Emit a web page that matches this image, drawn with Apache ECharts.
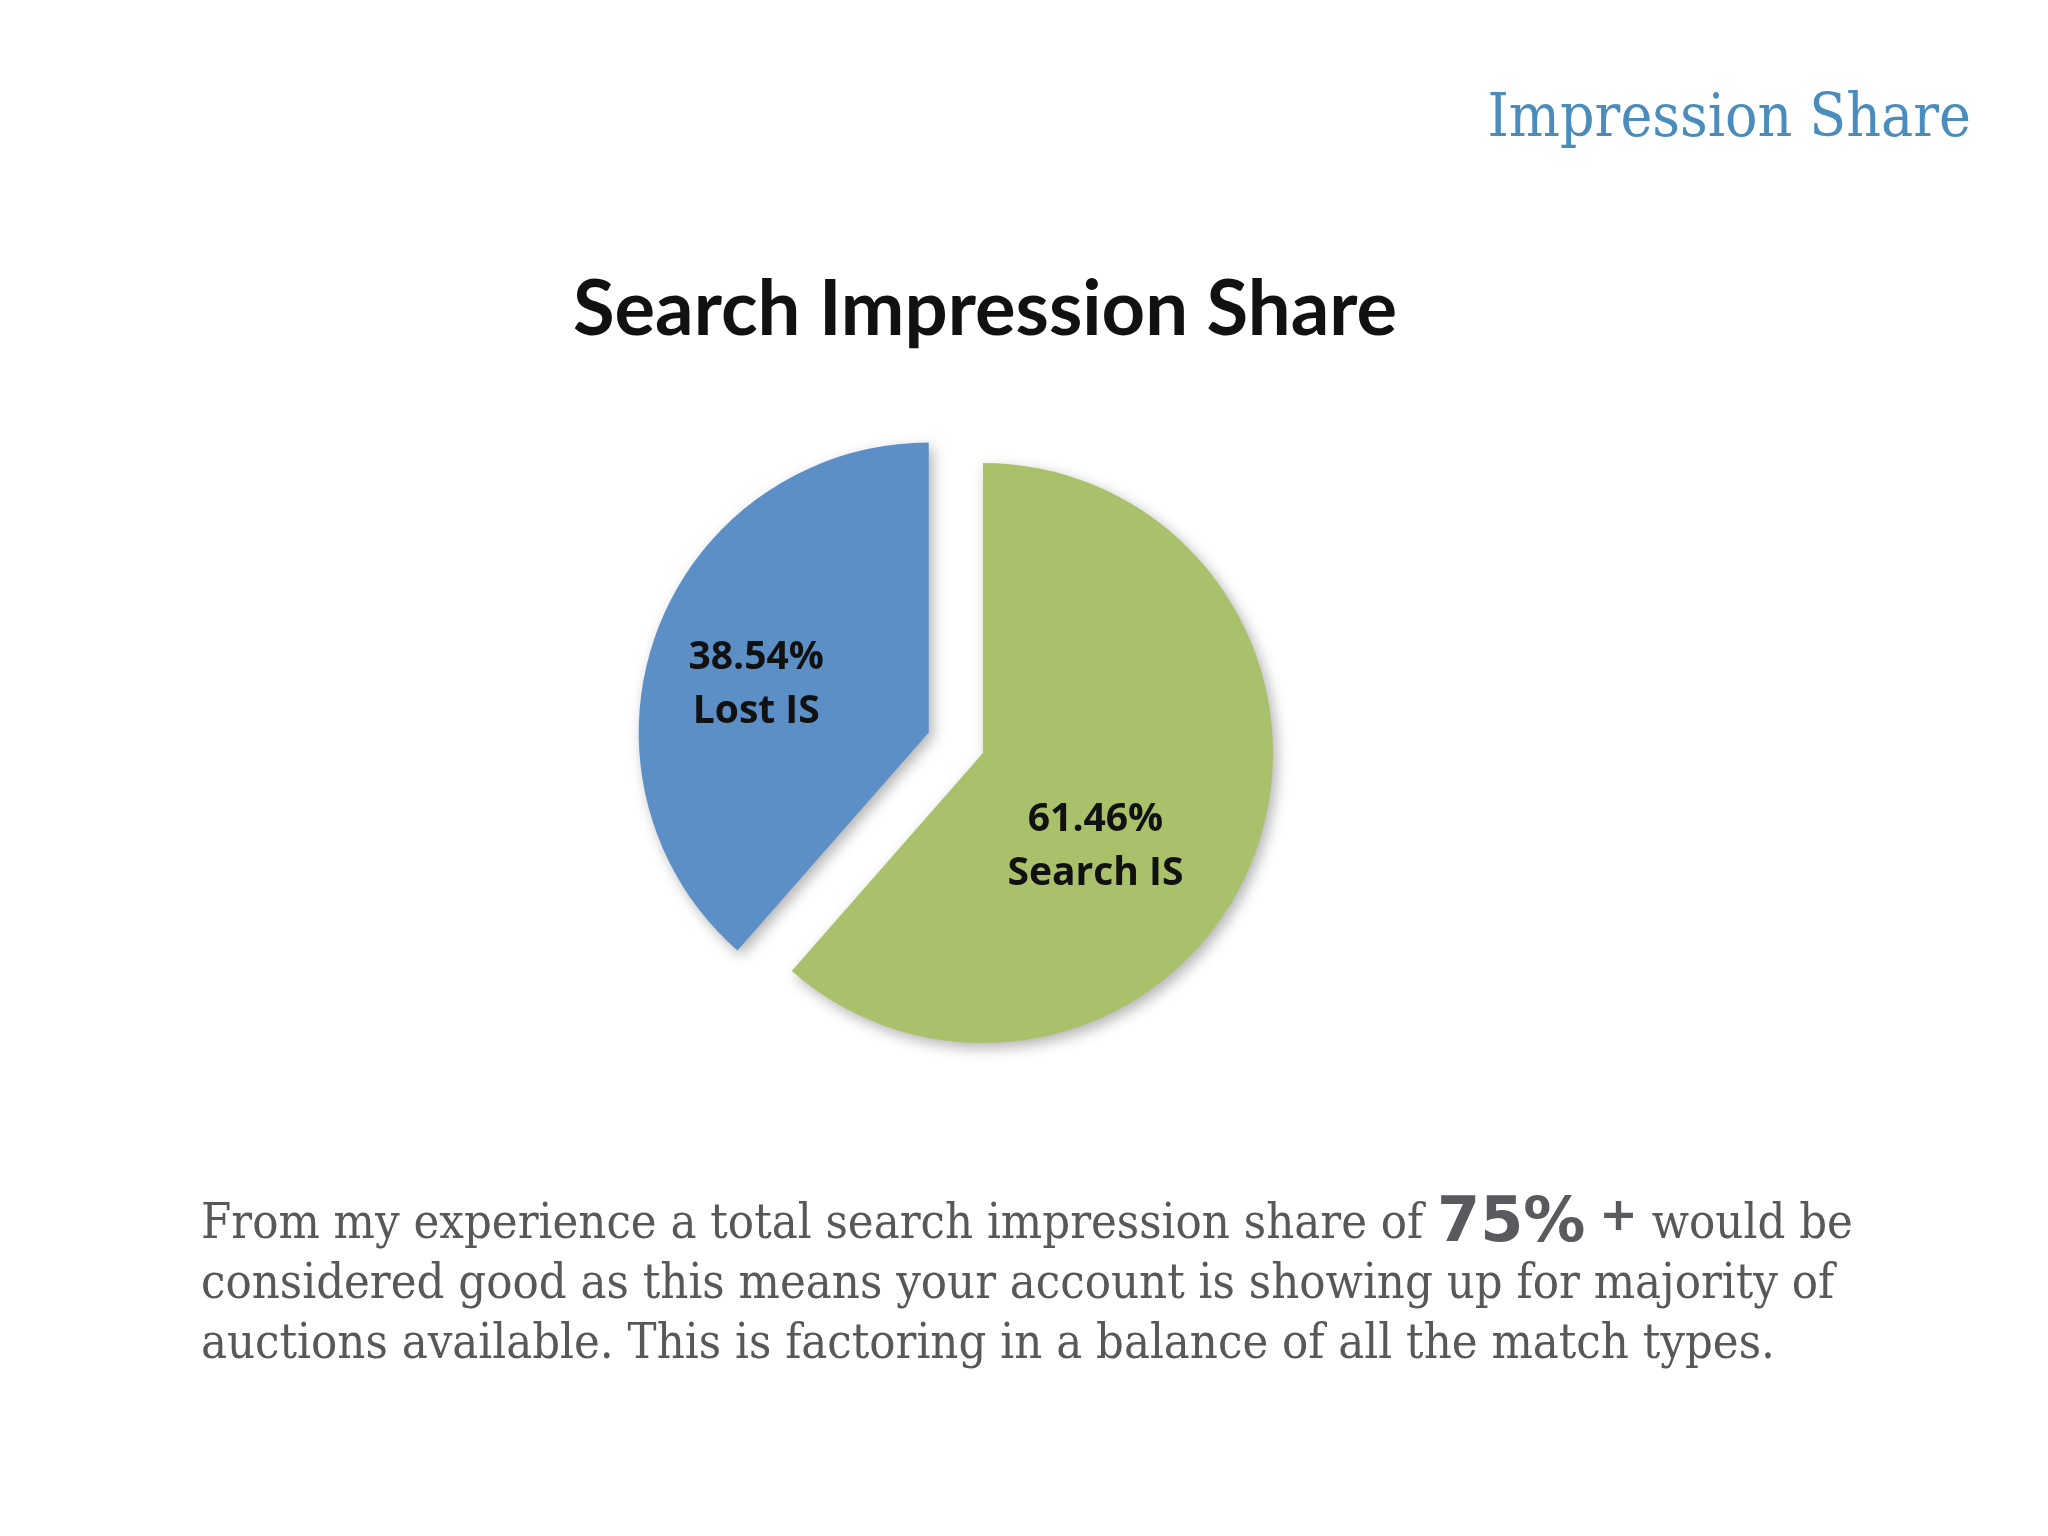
<!DOCTYPE html>
<html>
<head>
<meta charset="utf-8">
<script src="https://cdn.jsdelivr.net/npm/echarts@6/dist/echarts.min.js"></script>
<style>
  html, body { margin: 0; padding: 0; background: #fff; }
  #main { width: 2048px; height: 1536px; }
</style>
</head>
<body>
<div id="main"></div>
<script>
// data
var sliceNames = ['Search IS', 'Lost IS'];
var sliceValues = [61.46, 38.54];
var sliceColors = ['#aac16b', '#5b8fc6'];
var explodedSlice = 'Lost IS';

// label nudges, Excel put them by hand
var labelNudge = [{ dx: -26, dy: 42 }, { dx: -34, dy: 4 }];

var chart = echarts.init(document.getElementById('main'));

var pieData = sliceNames.map(function (n, i) {
  return {
    name: n,
    value: sliceValues[i],
    selected: n === explodedSlice,
    itemStyle: { color: sliceColors[i] }
  };
});

var option = {
  backgroundColor: '#ffffff',
  animation: false,
  title: [
    {
      text: 'Impression Share',
      right: 72,
      top: 85,
      textStyle: {
        fontFamily: 'DejaVu Serif Condensed, DejaVu Serif',
        fontWeight: 'normal',
        fontSize: 60,
        color: '#4a8cbc'
      }
    },
    {
      text: 'Search Impression Share',
      left: 980,
      textAlign: 'center',
      top: 267,
      textStyle: {
        fontFamily: 'Lato',
        fontWeight: 'bold',
        fontSize: 76,
        color: '#111111'
      }
    },
    {
      text: 'From my experience a total search impression share of {big|75%} {plus|+} would be\n' +
            'considered good as this means your account is showing up for majority of\n' +
            'auctions available. This is factoring in a balance of all the match types.',
      left: 196,
      top: 1190,
      textStyle: {
        fontFamily: 'DejaVu Serif Condensed, DejaVu Serif',
        fontWeight: 'normal',
        fontSize: 48.5,
        lineHeight: 60,
        color: '#58585b',
        rich: {
          big: {
            fontFamily: 'DejaVu Sans',
            fontWeight: 'bold',
            fontSize: 62,
            lineHeight: 60,
            color: '#5a5a5e'
          },
          plus: {
            fontFamily: 'DejaVu Sans',
            fontWeight: 'bold',
            fontSize: 46,
            lineHeight: 60,
            verticalAlign: 'top',
            color: '#5a5a5e'
          }
        }
      }
    }
  ],
  series: [
    {
      type: 'pie',
      center: [983, 753],
      radius: 290,
      startAngle: 90,
      selectedMode: 'single',
      selectedOffset: 58,
      silent: true,
      data: pieData,
      itemStyle: {
        shadowBlur: 14,
        shadowOffsetX: 4,
        shadowOffsetY: 5,
        shadowColor: 'rgba(0,0,0,0.3)'
      },
      label: {
        show: true,
        position: 'inside',
        formatter: '{c}%\n{b}',
        fontFamily: 'Open Sans',
        fontWeight: 'bold',
        fontSize: 39,
        lineHeight: 54,
        color: '#111111'
      },
      labelLine: { show: false },
      labelLayout: function (p) {
        return labelNudge[p.dataIndex];
      }
    }
  ]
};

chart.setOption(option);
</script>
</body>
</html>
